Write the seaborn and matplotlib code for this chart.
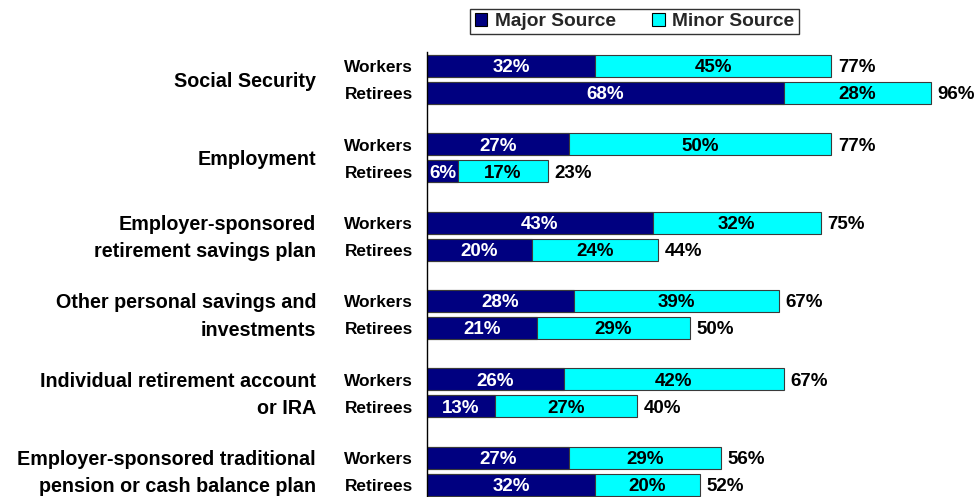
import matplotlib
matplotlib.use("Agg")
import matplotlib.pyplot as plt
from matplotlib.patches import Patch
import seaborn as sns
import pandas as pd

# Sources of retirement income, Workers vs. Retirees
groups = [
    "Social Security",
    "Employment",
    "Employer-sponsored\nretirement savings plan",
    "Other personal savings and\ninvestments",
    "Individual retirement account\nor IRA",
    "Employer-sponsored traditional\npension or cash balance plan",
]
workers_major = [32, 27, 43, 28, 26, 27]
workers_minor = [45, 50, 32, 39, 42, 29]
workers_total = [77, 77, 75, 67, 67, 56]
retirees_major = [68, 6, 20, 21, 13, 32]
retirees_minor = [28, 17, 24, 29, 27, 20]
retirees_total = [96, 23, 44, 50, 40, 52]

NAVY = "#000080"
CYAN = "#00FFFF"
EDGE = "#3a3a3a"

rows = []
for i, g in enumerate(groups):
    rows.append(dict(group=g, who="Workers", major=workers_major[i],
                     minor=workers_minor[i], total=workers_total[i]))
    rows.append(dict(group=g, who="Retirees", major=retirees_major[i],
                     minor=retirees_minor[i], total=retirees_total[i]))
df = pd.DataFrame(rows)
df["stack"] = df["major"] + df["minor"]

sns.set_style("white")
plt.rcParams["font.family"] = ["Liberation Sans", "DejaVu Sans"]
plt.rcParams["font.weight"] = "bold"

fig = plt.figure(figsize=(9.79, 4.97), dpi=100)
ax = fig.add_axes([427 / 979, 0.0, 525 / 979, 445 / 497])

order = ["Workers", "Retirees"]
common = dict(data=df, y="group", hue="who", hue_order=order, orient="h",
              width=0.69, gap=0.19, edgecolor=EDGE, linewidth=0.8,
              saturation=1, legend=False, ax=ax, errorbar=None)
sns.barplot(x="stack", palette={"Workers": CYAN, "Retirees": CYAN}, **common)
sns.barplot(x="major", palette={"Workers": NAVY, "Retirees": NAVY}, **common)

ax.set_xlim(0, 100)
ax.set_ylim(5.33, -0.35)
ax.set_xlabel("")
ax.set_ylabel("")
ax.set_xticks([])
ax.set_yticks([])
for side in ["top", "right", "bottom"]:
    ax.spines[side].set_visible(False)
ax.spines["left"].set_color("black")
ax.spines["left"].set_linewidth(1.0)

FS = 13.5
NUDGE = 0.025  # small downward shift so text sits optically centred on bars
navy_containers = ax.containers[2:4]
for k, who in enumerate(order):
    sub = df[df["who"] == who].reset_index(drop=True)
    for i, bar in enumerate(navy_containers[k]):
        yc = bar.get_y() + bar.get_height() / 2 + NUDGE
        maj, mnr, tot = sub.loc[i, "major"], sub.loc[i, "minor"], sub.loc[i, "total"]
        ax.text(maj / 2, yc, f"{maj}%", ha="center", va="center",
                color="white", fontsize=FS, fontweight="bold")
        ax.text(maj + mnr / 2, yc, f"{mnr}%", ha="center", va="center",
                color="black", fontsize=FS, fontweight="bold")
        ax.text(maj + mnr + 1.3, yc, f"{tot}%", ha="left", va="center",
                color="black", fontsize=FS, fontweight="bold", clip_on=False)
        ax.text(-0.027, yc, who, ha="right", va="center", color="black",
                fontsize=12.4, fontweight="bold",
                transform=ax.get_yaxis_transform(), clip_on=False)

for i, g in enumerate(groups):
    ax.text(-0.2114, i + NUDGE, g, ha="right", va="center", multialignment="right",
            color="black", fontsize=14.2, fontweight="bold", linespacing=1.55,
            transform=ax.get_yaxis_transform(), clip_on=False)

handles = [Patch(facecolor=NAVY, edgecolor="black", linewidth=0.8, label="Major Source"),
           Patch(facecolor=CYAN, edgecolor="black", linewidth=0.8, label="Minor Source")]
leg = fig.legend(handles=handles, loc="center", bbox_to_anchor=(634.5 / 979, 1 - 21.5 / 497),
                 ncol=2, frameon=True, fancybox=False, prop={"size": 13.8, "weight": "bold"},
                 handlelength=0.65, handleheight=0.65, handletextpad=0.4, columnspacing=1.9,
                 borderpad=0.22, borderaxespad=0)
leg.get_frame().set_edgecolor("black")
leg.get_frame().set_linewidth(1.0)

fig.savefig("out.png", dpi=100)
